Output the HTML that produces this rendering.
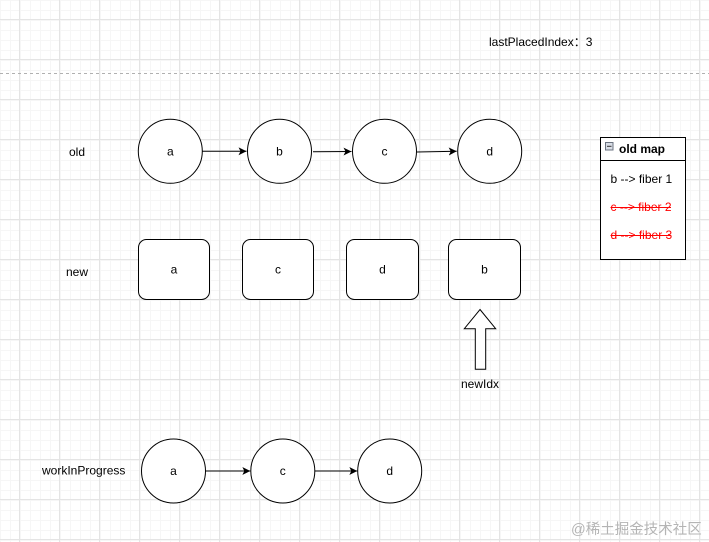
<!DOCTYPE html>
<html><head><meta charset="utf-8"><style>
html,body{margin:0;padding:0;background:#fff;}
svg{display:block;}
text{font-family:"Liberation Sans","Noto Sans CJK SC",sans-serif;font-size:12px;fill:#000;}
</style></head><body>
<svg width="709" height="542" viewBox="0 0 709 542" xmlns="http://www.w3.org/2000/svg">
<defs>
<pattern id="minor" width="10" height="10" patternUnits="userSpaceOnUse" x="0" y="0">
<path d="M0 0.5H10M0.5 0V10" stroke="#f6f6f6" stroke-width="1" fill="none"/>
</pattern>
<pattern id="major" width="40" height="40" patternUnits="userSpaceOnUse" x="0" y="0">
<path d="M0 19.5H40M19.5 0V40" stroke="#e4e4e4" stroke-width="1" fill="none"/>
</pattern>
<marker id="ah" markerWidth="10" markerHeight="10" refX="8" refY="4" orient="auto" markerUnits="userSpaceOnUse">
<path d="M0,0 L8,4 L0,8 L2,4 Z" fill="#000"/>
</marker>
</defs>
<rect width="709" height="542" fill="url(#minor)"/>
<rect width="709" height="542" fill="url(#major)"/>
<line x1="0" y1="73.5" x2="709" y2="73.5" stroke="#b0b0b0" stroke-dasharray="3,3"/>

<text x="489" y="46">lastPlacedIndex：3</text>

<!-- old row -->
<text x="69" y="156">old</text>
<g fill="#fff" stroke="#000" stroke-width="1">
<circle cx="170.3" cy="151.3" r="32"/>
<circle cx="279.5" cy="151.3" r="32"/>
<circle cx="384.5" cy="151.3" r="32"/>
<circle cx="489.7" cy="151.3" r="32"/>
</g>
<g stroke="#000" stroke-width="1" fill="none">
<line x1="202.3" y1="151.3" x2="246.5" y2="151.3" marker-end="url(#ah)"/>
<line x1="313" y1="151.8" x2="351.5" y2="151.5" marker-end="url(#ah)"/>
<line x1="417" y1="152" x2="456.7" y2="151.3" marker-end="url(#ah)"/>
</g>
<g text-anchor="middle">
<text x="170.3" y="155.5">a</text>
<text x="279.5" y="155.5">b</text>
<text x="384.5" y="155.5">c</text>
<text x="489.7" y="155.5">d</text>
</g>

<!-- new row -->
<text x="66" y="276">new</text>
<g fill="#fff" stroke="#000" stroke-width="1">
<rect x="138.5" y="239.5" width="71" height="60" rx="8"/>
<rect x="242.5" y="239.5" width="71" height="60" rx="8"/>
<rect x="346.5" y="239.5" width="72" height="60" rx="8"/>
<rect x="448.5" y="239.5" width="72" height="60" rx="8"/>
</g>
<g text-anchor="middle">
<text x="174" y="273.5">a</text>
<text x="278" y="273.5">c</text>
<text x="382.5" y="273.5">d</text>
<text x="484.5" y="273.5">b</text>
</g>

<!-- up arrow -->
<path d="M480,309.5 L495.7,328.7 L485.7,328.7 L485.7,369.3 L475.3,369.3 L475.3,328.7 L464.3,328.7 Z" fill="#fff" stroke="#000" stroke-width="1"/>
<text x="480" y="388" text-anchor="middle">newIdx</text>

<!-- old map -->
<rect x="600.5" y="137.5" width="85" height="122" fill="#fff" stroke="#000" stroke-width="1"/>
<line x1="600.5" y1="160.5" x2="685.5" y2="160.5" stroke="#000"/>
<rect x="605.5" y="142.5" width="7.5" height="7.5" fill="#d8dde6" stroke="#6b7380" stroke-width="1"/>
<line x1="607" y1="146.3" x2="611.5" y2="146.3" stroke="#333"/>
<text x="619" y="153" font-weight="bold">old map</text>
<text x="610.5" y="183">b --&gt; fiber 1</text>
<text x="610.5" y="211" style="fill:#ff0000">c --&gt; fiber 2</text>
<line x1="610.5" y1="207.5" x2="671" y2="207.5" stroke="#ff0000"/>
<text x="610.5" y="239" style="fill:#ff0000">d --&gt; fiber 3</text>
<line x1="610.5" y1="235.5" x2="671" y2="235.5" stroke="#ff0000"/>

<!-- workInProgress -->
<text x="42" y="474.5">workInProgress</text>
<g fill="#fff" stroke="#000" stroke-width="1">
<circle cx="173.5" cy="471" r="32"/>
<circle cx="282.8" cy="471" r="32"/>
<circle cx="389.7" cy="471" r="32"/>
</g>
<g stroke="#000" stroke-width="1" fill="none">
<line x1="205.5" y1="471" x2="250.3" y2="471" marker-end="url(#ah)"/>
<line x1="314.8" y1="471" x2="357.3" y2="471" marker-end="url(#ah)"/>
</g>
<g text-anchor="middle">
<text x="173.5" y="475">a</text>
<text x="282.8" y="475">c</text>
<text x="389.7" y="475">d</text>
</g>

<text x="571" y="534" style="fill:#b4b4b4;font-size:14.5px;">@稀土掘金技术社区</text>
</svg>
</body></html>
